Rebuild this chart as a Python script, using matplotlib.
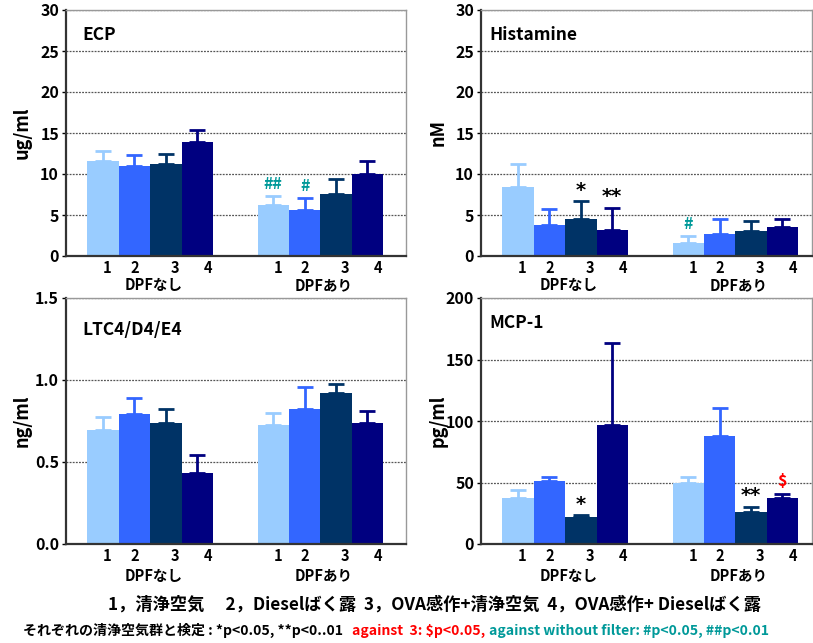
import numpy as np
import matplotlib
matplotlib.use("Agg")
import matplotlib.pyplot as plt

plt.rcParams['font.family'] = ['Noto Sans CJK JP', 'DejaVu Sans']

# ---------- data ----------
groups = ["DPFなし", "DPFあり"]
bar_labels = ["1", "2", "3", "4"]
colors = ["#99CCFF", "#3366FF", "#003366", "#000080"]

ecp_mean = [11.6, 11.0, 11.2, 13.9, 6.2, 5.6, 7.56, 10.0]
ecp_err = [1.25, 1.3, 1.25, 1.5, 1.1, 1.47, 1.8, 1.6]

hist_mean = [8.37, 3.74, 4.47, 3.17, 1.54, 2.68, 3.05, 3.5]
hist_err = [2.83, 1.96, 2.2, 2.73, 0.9, 1.8, 1.25, 0.97]

ltc_mean = [0.698, 0.792, 0.737, 0.431, 0.724, 0.822, 0.918, 0.737]
ltc_err = [0.078, 0.098, 0.087, 0.112, 0.076, 0.135, 0.06, 0.073]

mcp_mean = [37.7, 51.3, 21.7, 96.9, 49.9, 87.9, 26.0, 37.7]
mcp_err = [6.3, 3.5, 1.9, 66.5, 4.9, 22.3, 4.4, 3.3]

# significance marks: (bar index, text, kind)
ecp_marks = [(4, "##", "hash"), (5, "#", "hash")]
hist_marks = [(2, "*", "star"), (3, "**", "star"), (4, "#", "hash")]
ltc_marks = []
mcp_marks = [(2, "*", "star"), (6, "**", "star"), (7, "$", "dollar")]

mark_colors = {"star": "black", "hash": "#009999", "dollar": "#FF0000"}

# ---------- layout ----------
W, H = 813, 643
fig = plt.figure(figsize=(W / 100, H / 100), dpi=100)


def px_axes(left, top, right, bottom):
    return fig.add_axes([left / W, 1 - bottom / H, (right - left) / W, (bottom - top) / H])


group_start = [0.68, 6.1]
label_shift = [0.14, 0.0, 0.3, 0.33]

panels = [
    # title, ylabel, mean, err, marks, ylim, yticks, fmt, box, title pos
    ("ECP", "ug/ml", ecp_mean, ecp_err, ecp_marks, 30, np.arange(0, 31, 5), "%d",
     (66, 10, 406, 256), (0.047, 0.90)),
    ("Histamine", "nM", hist_mean, hist_err, hist_marks, 30, np.arange(0, 31, 5), "%d",
     (481, 10, 812, 256), (0.024, 0.90)),
    ("LTC4/D4/E4", "ng/ml", ltc_mean, ltc_err, ltc_marks, 1.5, [0, 0.5, 1.0, 1.5], "%.1f",
     (66, 298, 406, 544), (0.047, 0.87)),
    ("MCP-1", "pg/ml", mcp_mean, mcp_err, mcp_marks, 200, np.arange(0, 201, 50), "%d",
     (481, 298, 812, 544), (0.024, 0.90)),
]

for title, ylab, mean, err, marks, ytop, yticks, fmt, box, tpos in panels:
    ax = px_axes(*box)
    bw = (box[2] - box[0]) / 31.4

    xs = []
    for g in range(2):
        for i in range(4):
            xs.append(group_start[g] + i + 0.5)
    xs = np.array(xs)
    cols = colors * 2

    for x, m, e, c in zip(xs, mean, err, cols):
        ax.bar(x, m, width=1.0, color=c, zorder=2,
               yerr=[[0], [e]],
               error_kw=dict(ecolor=c, elinewidth=2, capsize=6, capthick=2, zorder=3))

    for idx, txt, kind in marks:
        if kind == "star":
            ax.annotate(txt, (xs[idx], mean[idx] + err[idx]), xytext=(0, 1),
                        textcoords="offset points", ha="center", va="bottom",
                        fontsize=14, fontweight="bold", color=mark_colors[kind],
                        family="DejaVu Sans")
        else:
            ax.annotate(txt, (xs[idx], mean[idx] + err[idx]), xytext=(0, 3),
                        textcoords="offset points", ha="center", va="bottom",
                        fontsize=11.5, fontweight="bold", color=mark_colors[kind])

    ax.set_xlim(0, bw)
    ax.set_ylim(0, ytop)
    ax.set_yticks(yticks)
    ax.set_yticklabels([fmt % v for v in yticks], fontsize=11.5, fontweight="bold")
    ax.yaxis.grid(True, linestyle=(0, (1.5, 1)), color="#555555", linewidth=0.9, zorder=0)
    ax.set_axisbelow(True)

    ax.set_xticks(xs + np.array(label_shift * 2))
    ax.set_xticklabels(bar_labels * 2, fontsize=10.5, fontweight="bold")
    centers = [group_start[g] + 2.1 for g in range(2)]
    ax.set_xticks(centers, minor=True)
    ax.set_xticklabels(groups, minor=True, fontsize=10.5, fontweight="bold")
    bottom_pad = 15 if box[1] < 100 else 17
    ax.tick_params(axis="x", which="major", length=0, pad=3)
    ax.tick_params(axis="x", which="minor", length=0, pad=bottom_pad)
    ax.tick_params(axis="y", length=3, width=1, pad=2)

    for s in ["top", "right"]:
        ax.spines[s].set_color("#999999")
        ax.spines[s].set_linewidth(1)
    for s in ["left", "bottom"]:
        ax.spines[s].set_color("#333333")
        ax.spines[s].set_linewidth(1.6)

    ax.set_ylabel(ylab, fontsize=13, fontweight="bold")
    ax.yaxis.set_label_coords(-0.1, 0.5)

    ax.text(tpos[0], tpos[1], title, transform=ax.transAxes, fontsize=12.5,
            fontweight="bold", va="center", ha="left")

# ---------- footnotes ----------
lax = fig.add_axes([0, 0, 1, 1])
lax.axis("off")

fig.text(0.535, 1 - 605 / H,
         "1，清浄空気　 2，Dieselばく露  3，OVA感作+清浄空気  4，OVA感作+ Dieselばく露",
         ha="center", va="center", fontsize=12.4, fontweight="bold")

parts = [
    ("それぞれの清浄空気群と検定 : *p<0.05, **p<0..01   ", "black"),
    ("against  3: $p<0.05, ", "#FF0000"),
    ("against without filter: #p<0.05, ##p<0.01", "#009999"),
]
prev = lax.text(23 / W, 1 - 630 / H, parts[0][0], ha="left", va="center",
                fontsize=10.1, fontweight="bold", color=parts[0][1],
                transform=lax.transAxes)
for txt, c in parts[1:]:
    prev = lax.annotate(txt, xy=(1, 0), xycoords=prev, ha="left", va="bottom",
                        fontsize=10.1, fontweight="bold", color=c)

fig.savefig("out.png", dpi=100)
